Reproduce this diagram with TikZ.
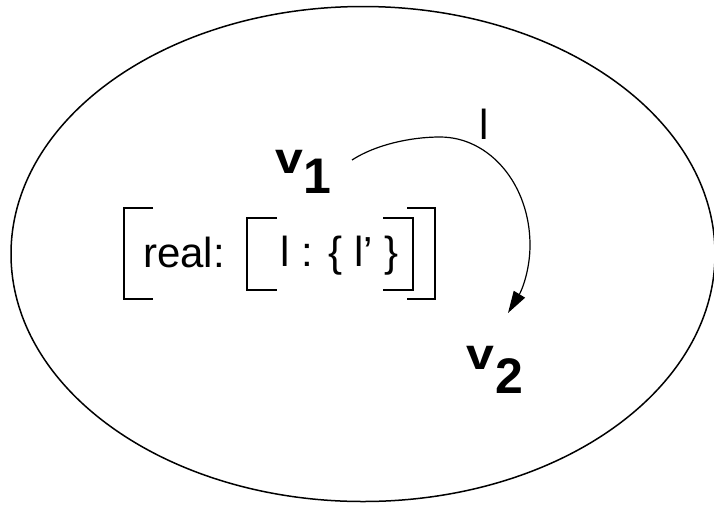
\documentclass[tikz,border=0pt]{standalone}
\usepackage{fontspec}
\setmainfont{Liberation Sans}
\usetikzlibrary{arrows.meta}
\begin{document}
\begin{tikzpicture}[x=1pt,y=-1pt,
  lbl/.style={inner sep=0pt, anchor=base west, font=\fontsize{42}{42}\selectfont},
  vlbl/.style={inner sep=0pt, anchor=base west, font=\fontsize{50}{50}\selectfont\bfseries},
  brk/.style={line width=2.5pt},
  arc/.style={line width=1.2pt, -{Triangle[length=22pt,width=13pt]}},
  ]
\useasboundingbox (0,0) rectangle (714,504);
\draw[line width=1.5pt] (363,254) ellipse [x radius=352, y radius=247.5];
% labels
\node[vlbl] (v1) at (275,173) {\scalebox{1}[0.88]{v}\raisebox{-20pt}{1}};
\node[vlbl] (v2) at (466,369) {\scalebox{1}[0.88]{v}\kern1pt\raisebox{-24pt}{2}};
\node[lbl] (real) at (143,267) {real:};
\node[lbl] (inner) at (280,266) {l : \{ l’ \}};
\node[lbl] (arclbl) at (479.5,139) {l};
% brackets
\draw[brk] (153,208) -- (124,208) -- (124,299) -- (153,299);
\draw[brk] (407,208) -- (435,208) -- (435,299) -- (407,299);
\draw[brk] (277,218) -- (247,218) -- (247,290) -- (277,290);
\draw[brk] (383,218) -- (413,218) -- (413,290) -- (383,290);
% arc
\coordinate (s) at (352,160);
\coordinate (e) at (508,313);
\draw[arc] (s) .. controls (375,145) and (410,137) .. (440,137)
  .. controls (490,137) and (530,185) .. (530,245)
  .. controls (530,270) and (522,290) .. (e);
\end{tikzpicture}
\end{document}
